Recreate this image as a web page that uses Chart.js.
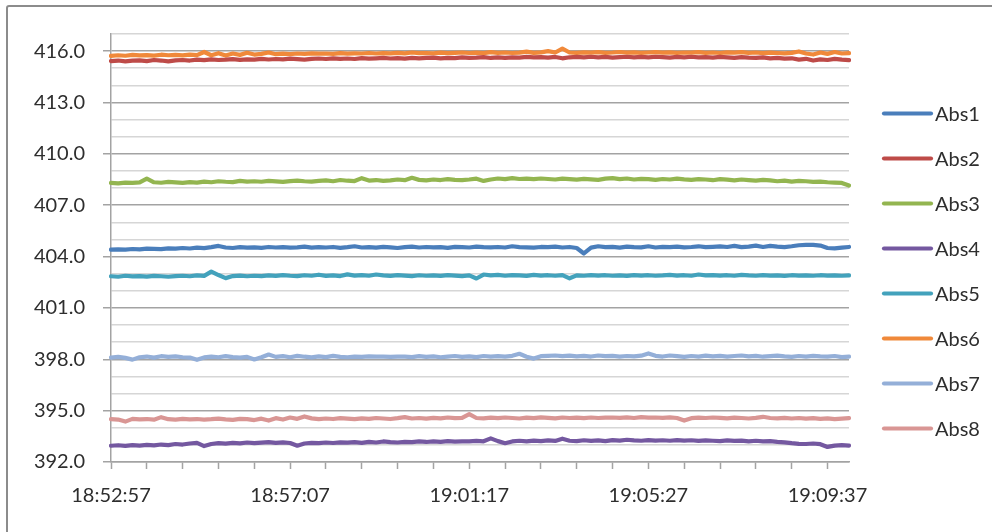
<!DOCTYPE html>
<html>
<head>
<meta charset="utf-8">
<script src="https://cdn.jsdelivr.net/npm/chart.js@4.4.1/dist/chart.umd.min.js"></script>
<style>
  html, body { margin: 0; padding: 0; background: #ffffff; overflow: hidden; }
  #wrap { position: relative; width: 992px; height: 532px; }
  #frame {
    position: absolute; left: 6px; top: 5px; width: 1000px; height: 540px;
    border: 2px solid #8c8c8c; border-radius: 3px; box-sizing: border-box; pointer-events: none;
  }
  canvas { position: absolute; left: 0; top: 0; }
</style>
</head>
<body>
<div id="wrap">
  <canvas id="c" width="992" height="532"></canvas>
  <div id="frame"></div>
</div>
<script>
// Sampling: one reading every 10 seconds starting at 18:52:57
const START_TIME = "18:52:57";
const STEP_SECONDS = 10;
const POINT_COUNT = 104;

const seriesNames = ["Abs1", "Abs2", "Abs3", "Abs4", "Abs5", "Abs6", "Abs7", "Abs8"];
const seriesColors = ["#4A7EBB", "#BE4B48", "#93B550", "#7458A0", "#43A2BC", "#F0893A", "#94AFD8", "#D99694"];

const yTickLabels = ["392.0", "395.0", "398.0", "401.0", "404.0", "407.0", "410.0", "413.0", "416.0"];

const abs1 = [
404.40,404.42,404.40,404.44,404.42,404.46,404.45,404.43,404.48,404.46,
404.50,404.47,404.52,404.49,404.55,404.62,404.53,404.50,404.55,404.52,
404.54,404.51,404.56,404.53,404.55,404.52,404.54,404.58,404.52,404.55,
404.53,404.56,404.51,404.55,404.60,404.53,404.55,404.52,404.57,404.54,
404.50,404.55,404.58,404.53,404.56,404.54,404.55,404.51,404.57,404.55,
404.53,404.58,404.55,404.54,404.56,404.53,404.60,404.55,404.54,404.52,
404.56,404.55,404.58,404.53,404.56,404.50,404.18,404.52,404.60,404.55,
404.57,404.52,404.58,404.55,404.54,404.60,404.53,404.57,404.55,404.58,
404.54,404.56,404.60,404.55,404.57,404.59,404.56,404.62,404.55,404.58,
404.64,404.56,404.62,404.58,404.55,404.60,404.66,404.68,404.68,404.64,
404.50,404.48,404.52,404.56];

const abs2 = [
415.42,415.45,415.40,415.44,415.46,415.42,415.48,415.45,415.40,415.46,
415.48,415.45,415.50,415.47,415.52,415.48,415.50,415.53,415.49,415.52,
415.50,415.55,415.51,415.54,415.52,415.56,415.53,415.50,415.55,415.57,
415.54,415.58,415.55,415.57,415.54,415.59,415.56,415.58,415.60,415.57,
415.59,415.56,415.61,415.58,415.60,415.62,415.58,415.61,415.59,415.63,
415.60,415.62,415.65,415.60,415.63,415.61,415.64,415.62,415.66,415.63,
415.65,415.62,415.66,415.58,415.64,415.66,415.63,415.67,415.64,415.66,
415.62,415.65,415.67,415.64,415.66,415.63,415.67,415.65,415.62,415.66,
415.64,415.67,415.63,415.65,415.62,415.66,415.64,415.61,415.65,415.62,
415.60,415.63,415.58,415.61,415.56,415.58,415.50,415.55,415.45,415.52,
415.48,415.55,415.50,415.47];

const abs3 = [
408.30,408.28,408.32,408.30,408.33,408.55,408.34,408.31,408.36,408.33,
408.30,408.35,408.32,408.38,408.34,408.40,408.37,408.35,408.42,408.38,
408.40,408.37,408.42,408.39,408.36,408.41,408.44,408.40,408.38,408.42,
408.45,408.40,408.47,408.43,408.41,408.58,408.44,408.47,408.42,408.45,
408.50,408.46,408.60,408.48,408.45,408.50,408.47,408.52,408.48,408.46,
408.50,408.55,408.42,408.50,408.56,408.52,408.58,408.53,408.55,408.52,
408.56,408.53,408.50,408.55,408.52,408.49,408.54,408.51,408.48,408.55,
408.58,408.52,408.56,408.50,408.54,408.52,408.48,408.53,408.50,408.55,
408.51,408.48,408.52,408.50,408.46,408.52,408.49,408.45,408.50,408.47,
408.44,408.48,408.45,408.40,408.44,408.38,408.42,408.40,408.36,408.38,
408.34,408.32,408.30,408.15];

const abs4 = [
392.95,392.98,392.94,392.99,392.96,393.00,392.97,393.02,392.99,393.05,
393.02,393.08,393.12,392.93,393.05,393.10,393.07,393.12,393.09,393.14,
393.10,393.13,393.16,393.12,393.15,393.11,392.95,393.08,393.12,393.10,
393.14,393.11,393.15,393.13,393.16,393.12,393.18,393.14,393.20,393.16,
393.14,393.18,393.16,393.20,393.17,393.21,393.18,393.22,393.19,393.21,
393.20,393.23,393.21,393.38,393.22,393.10,393.20,393.24,393.21,393.25,
393.22,393.26,393.23,393.36,393.24,393.22,393.27,393.23,393.26,393.22,
393.28,393.25,393.30,393.26,393.24,393.28,393.25,393.27,393.24,393.28,
393.25,393.27,393.23,393.26,393.24,393.22,393.26,393.23,393.25,393.21,
393.24,393.20,393.22,393.18,393.15,393.10,393.06,393.05,393.08,393.04,
392.88,392.96,392.98,392.96];

const abs5 = [
402.85,402.82,402.88,402.84,402.86,402.83,402.87,402.85,402.82,402.86,
402.88,402.85,402.90,402.87,403.12,402.92,402.74,402.86,402.89,402.85,
402.88,402.86,402.90,402.87,402.92,402.88,402.86,402.91,402.88,402.94,
402.87,402.90,402.86,402.96,402.89,402.92,402.88,402.95,402.90,402.87,
402.92,402.89,402.86,402.91,402.88,402.90,402.87,402.92,402.89,402.86,
402.90,402.72,402.95,402.90,402.93,402.88,402.92,402.90,402.87,402.93,
402.89,402.91,402.88,402.92,402.73,402.90,402.88,402.92,402.89,402.91,
402.88,402.90,402.87,402.92,402.89,402.91,402.88,402.90,402.93,402.89,
402.91,402.88,402.95,402.90,402.92,402.89,402.91,402.88,402.93,402.90,
402.88,402.92,402.89,402.90,402.87,402.91,402.89,402.90,402.88,402.91,
402.89,402.90,402.88,402.90];

const abs6 = [
415.72,415.76,415.73,415.78,415.75,415.77,415.74,415.79,415.76,415.78,
415.75,415.80,415.77,415.95,415.76,415.88,415.74,415.86,415.78,415.90,
415.80,415.84,415.92,415.82,415.85,415.83,415.86,415.84,415.87,415.85,
415.86,415.84,415.88,415.85,415.87,415.86,415.89,415.86,415.88,415.87,
415.90,415.87,415.92,415.88,415.89,415.87,415.91,415.88,415.90,415.92,
415.89,415.91,415.88,415.94,415.90,415.92,415.89,415.91,415.97,415.90,
415.93,416.00,415.92,416.15,415.92,415.90,415.93,415.91,415.94,415.90,
415.92,415.95,415.91,415.93,415.90,415.92,415.94,415.91,415.93,415.90,
415.92,415.91,415.94,415.90,415.92,415.89,415.93,415.91,415.94,415.90,
415.92,415.88,415.91,415.89,415.87,415.90,415.98,415.86,415.80,415.92,
415.84,415.95,415.86,415.88];

const abs7 = [
398.10,398.14,398.08,397.98,398.12,398.16,398.10,398.18,398.14,398.17,
398.12,398.10,397.97,398.11,398.15,398.12,398.18,398.13,398.10,398.14,
397.99,398.12,398.28,398.14,398.18,398.12,398.20,398.15,398.11,398.17,
398.13,398.20,398.14,398.12,398.16,398.14,398.17,398.15,398.16,398.14,
398.16,398.15,398.13,398.18,398.14,398.17,398.12,398.16,398.19,398.14,
398.17,398.13,398.19,398.15,398.18,398.16,398.20,398.32,398.15,398.04,
398.18,398.20,398.22,398.18,398.21,398.17,398.20,398.16,398.22,398.18,
398.20,398.16,398.19,398.17,398.21,398.34,398.20,398.16,398.22,398.18,
398.14,398.19,398.16,398.21,398.17,398.20,398.16,398.19,398.22,398.17,
398.20,398.15,398.18,398.21,398.17,398.14,398.19,398.16,398.20,398.17,
398.15,398.19,398.13,398.16];

const abs8 = [
394.50,394.48,394.36,394.52,394.49,394.51,394.47,394.62,394.50,394.48,
394.52,394.49,394.51,394.48,394.50,394.53,394.49,394.46,394.52,394.50,
394.45,394.53,394.42,394.56,394.48,394.60,394.52,394.66,394.55,394.50,
394.54,394.51,394.56,394.53,394.50,394.55,394.52,394.57,394.54,394.51,
394.56,394.62,394.54,394.57,394.53,394.58,394.55,394.60,394.56,394.58,
394.80,394.57,394.55,394.59,394.56,394.60,394.57,394.54,394.59,394.56,
394.61,394.58,394.55,394.60,394.57,394.59,394.56,394.60,394.57,394.59,
394.60,394.58,394.61,394.57,394.62,394.59,394.60,394.58,394.61,394.57,
394.42,394.56,394.59,394.57,394.60,394.58,394.55,394.59,394.57,394.54,
394.58,394.64,394.57,394.55,394.58,394.54,394.57,394.53,394.56,394.52,
394.55,394.50,394.53,394.56];

const seriesValues = [abs1, abs2, abs3, abs4, abs5, abs6, abs7, abs8];

// Build the hh:mm:ss category labels
function buildTimeLabels(start, step, count) {
  const [h, m, s] = start.split(":").map(Number);
  const base = h * 3600 + m * 60 + s;
  const out = [];
  const pad = (n) => String(n).padStart(2, "0");
  for (let i = 0; i < count; i++) {
    const t = base + i * step;
    out.push(pad(Math.floor(t / 3600) % 24) + ":" + pad(Math.floor(t / 60) % 60) + ":" + pad(t % 60));
  }
  return out;
}
const timeLabels = buildTimeLabels(START_TIME, STEP_SECONDS, POINT_COUNT);

const Y_MIN = 392, Y_MAX = 417;
const TICK_EVERY = 5;    // tick mark every 5 samples (50 s)
const LABEL_EVERY = 25;  // label every 25 samples (250 s)

const FONT = "Lato, 'Open Sans', sans-serif";
const TEXT_COLOR = "#2e2e2e";
const MAJOR_GRID = "#a3a3a3";
const MINOR_GRID = "#d6d6d6";

const isMajor = (v) => yTickLabels.includes(Number(v).toFixed(1));

// Legend drawn as a stacked column of line samples to the right of the plot
const sideLegend = {
  id: "sideLegend",
  afterDraw(chart) {
    const ctx = chart.ctx;
    const area = chart.chartArea;
    const x0 = area.right + 35, lineLen = 47, gap = 4;
    const y0 = 113.5, rowH = 45;
    ctx.save();
    ctx.font = "20px " + FONT;
    ctx.textBaseline = "middle";
    ctx.textAlign = "left";
    chart.data.datasets.forEach((ds, i) => {
      const y = y0 + i * rowH;
      ctx.strokeStyle = ds.borderColor;
      ctx.lineWidth = 4.2;
      ctx.lineCap = "round";
      ctx.beginPath();
      ctx.moveTo(x0, y);
      ctx.lineTo(x0 + lineLen, y);
      ctx.stroke();
      ctx.fillStyle = TEXT_COLOR;
      ctx.fillText(ds.label, x0 + lineLen + gap, y + 1);
    });
    ctx.restore();
  }
};

new Chart(document.getElementById("c"), {
  type: "line",
  data: {
    labels: timeLabels,
    datasets: seriesNames.map((name, i) => ({
      label: name,
      data: seriesValues[i],
      borderColor: seriesColors[i],
      backgroundColor: seriesColors[i],
      borderWidth: 4.2,
      pointRadius: 0,
      tension: 0,
      borderJoinStyle: "round",
      borderCapStyle: "round",
      fill: false
    }))
  },
  options: {
    responsive: false,
    animation: false,
    events: [],
    layout: { padding: { left: 0, top: 34, right: 143, bottom: 0 } },
    plugins: {
      legend: { display: false },
      tooltip: { enabled: false },
      title: { display: false }
    },
    scales: {
      x: {
        type: "category",
        offset: false,
        afterFit(scale) { scale.height = 70; },
        afterBuildTicks(scale) {
          scale.ticks = scale.ticks.filter((t) => t.value % TICK_EVERY === 0);
        },
        grid: {
          drawOnChartArea: false,
          drawTicks: true,
          tickLength: 7,
          tickColor: MAJOR_GRID,
          tickWidth: 1.5
        },
        border: { display: true, color: MAJOR_GRID, width: 1.5 },
        ticks: {
          autoSkip: false,
          maxRotation: 0,
          minRotation: 0,
          padding: 15,
          color: TEXT_COLOR,
          font: { family: FONT, size: 20 },
          callback(value) {
            return value % LABEL_EVERY === 0 ? this.getLabelForValue(value) : "";
          }
        }
      },
      y: {
        min: Y_MIN,
        max: Y_MAX,
        afterFit(scale) { scale.width = 111; },
        grid: {
          drawTicks: true,
          tickLength: 8,
          color: (ctx) => (ctx.tick && isMajor(ctx.tick.value) ? MAJOR_GRID : MINOR_GRID),
          tickColor: (ctx) => (ctx.tick && isMajor(ctx.tick.value) ? MAJOR_GRID : "rgba(0,0,0,0)"),
          lineWidth: 1.5,
          tickWidth: 1.5
        },
        border: { display: true, color: MAJOR_GRID, width: 1.5 },
        ticks: {
          stepSize: 1,
          maxTicksLimit: 100,
          autoSkip: false,
          padding: 18,
          color: TEXT_COLOR,
          font: { family: FONT, size: 20 },
          callback(value) {
            const txt = Number(value).toFixed(1);
            return yTickLabels.includes(txt) ? txt : "";
          }
        }
      }
    }
  },
  plugins: [sideLegend]
});
</script>
</body>
</html>
